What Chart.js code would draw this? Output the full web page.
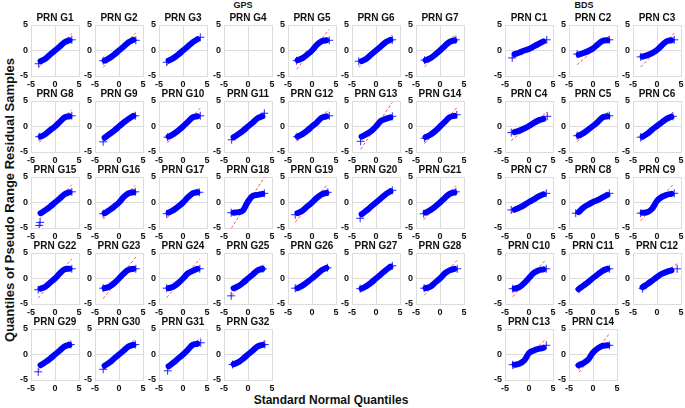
<!DOCTYPE html>
<html>
<head>
<meta charset="utf-8">
<script src="https://cdn.jsdelivr.net/npm/chart.js@4"></script>
<style>
  body { margin: 0; background: #fff; }
  #wrap { position: relative; width: 685px; height: 408px; overflow: hidden; font-family: "Liberation Sans", Arial, Helvetica, sans-serif; }
  #wrap canvas { position: absolute; }
  .lbl { position: absolute; font-weight: bold; color: #111; white-space: nowrap; transform: translate(-50%, -50%); }
</style>
</head>
<body>
<div id="wrap">
  <div class="lbl" style="left:243px;top:5px;font-size:9px">GPS</div>
  <div class="lbl" style="left:584px;top:5px;font-size:9px">BDS</div>
  <div class="lbl" style="left:9px;top:200px;font-size:13px;transform:translate(-50%,-50%) rotate(-90deg)">Quantiles of Pseudo Range Residual Samples</div>
  <div class="lbl" style="left:331px;top:400px;font-size:12px">Standard Normal Quantiles</div>
</div>
<script>
const qx = [-3, -2, -1, 0, 1, 2, 3];

// GPS
const gpsNames = ['G1','G2','G3','G4','G5','G6','G7','G8','G9','G10','G11','G12','G13','G14','G15','G16',
  'G17','G18','G19','G20','G21','G22','G23','G24','G25','G26','G27','G28','G29','G30','G31','G32'];
const gpsBand = [
  [-2.1,-1.6,-0.8,0,0.8,1.6,2.0],
  [-2.0,-1.5,-0.8,0,0.8,1.6,2.1],
  [-2.0,-1.5,-0.8,0,0.8,1.6,2.2],
  null,
  [-1.9,-1.5,-0.8,0,1.1,1.8,2.0],
  [-2.1,-1.6,-0.8,0,0.8,1.6,2.1],
  [-1.9,-1.5,-0.8,0,0.9,1.7,2.0],
  [-2.0,-1.5,-0.7,0,0.9,1.8,2.0],
  [-2.2,-1.5,-0.8,0,0.8,1.5,2.1],
  [-2.0,-1.5,-0.8,0,0.9,1.8,2.0],
  [-2.1,-1.5,-0.8,0,0.8,1.6,2.0],
  [-2.0,-1.5,-0.8,0,0.8,1.7,2.0],
  [-2.0,-1.5,-0.9,0,1.1,1.5,1.8],
  [-2.1,-1.6,-0.9,0,0.9,1.8,2.1],
  [-2.1,-1.5,-0.8,0,0.8,1.6,2.0],
  [-2.1,-1.5,-0.8,0,1.1,1.8,2.0],
  [-2.0,-1.5,-0.8,0,1.0,1.8,2.0],
  [-2.0,-1.9,-1.5,0.2,1.3,1.5,1.7],
  [-2.1,-1.6,-0.8,0,0.9,1.6,1.9],
  [-2.3,-1.6,-0.8,0,0.8,1.6,2.2],
  [-2.0,-1.5,-0.8,0,0.9,1.7,2.0],
  [-2.0,-1.6,-0.8,0,1.0,1.8,1.9],
  [-1.9,-1.6,-0.9,0,1.0,1.7,1.9],
  [-1.9,-1.6,-0.9,0,1.0,1.5,1.9],
  [-1.9,-1.5,-0.8,0,0.8,1.6,1.9],
  [-1.9,-1.4,-0.7,0,0.8,1.6,2.1],
  [-2.0,-1.5,-0.8,0,0.8,1.6,2.3],
  [-1.9,-1.6,-0.8,0,1.0,1.6,1.9],
  [-2.1,-1.5,-0.8,0,0.8,1.6,1.9],
  [-2.2,-1.6,-0.8,0,0.8,1.6,1.9],
  [-2.3,-1.6,-0.8,0,0.9,1.9,2.1],
  [-1.9,-1.5,-0.8,0,0.8,1.6,1.9]
];
// extreme samples drawn as single crosses [x, y]
const gpsTails = [
  [[-3.4,-2.6],[3.5,2.1]], [[-3.3,-2.0],[3.5,2.0]], [[-3.4,-2.3],[3.6,2.6]], [],
  [[-3.2,-2.0],[3.6,2.0]], [[-3.6,-2.1],[3.4,2.1]], [[-3.2,-1.9],[3.3,2.1]],
  [[-3.3,-2.0],[3.5,2.1]], [[-3.3,-3.0],[3.4,2.1]], [[-3.2,-2.1],[3.6,2.1]], [[-3.4,-2.6],[3.4,2.6]],
  [[-3.1,-2.0],[3.6,2.1]], [[-3.2,-2.9],[3.4,2.0]], [[-3.2,-2.3],[3.5,2.3]],
  [[-3.3,-4.5],[-3.1,-3.9],[3.5,2.1]], [[-3.3,-2.2],[3.4,2.1]], [[-3.4,-2.2],[3.4,2.0]], [[-3.5,-2.0],[3.4,1.8]],
  [[-3.5,-2.4],[3.3,2.0]], [[-3.3,-3.1],[3.4,2.4]], [[-3.4,-2.2],[3.3,2.1]],
  [[-3.5,-2.2],[3.5,1.9]], [[-3.3,-1.9],[3.5,1.9]], [[-3.4,-1.9],[3.5,1.9]], [[-3.5,-3.4],[3.1,1.9]],
  [[-3.5,-1.9],[3.2,2.1]], [[-3.3,-2.0],[3.4,2.5]], [[-3.3,-1.9],[3.6,1.9]],
  [[-3.5,-3.4],[3.3,1.95]], [[-3.3,-2.9],[3.4,1.95]], [[-3.2,-3.2],[3.7,2.3]], [[-3.2,-1.95],[3.5,1.95]]
];
const gpsSlope = [0.95,1.0,0.85,null,1.15,0.9,1.0,0.95,0.8,1.0,0.85,0.95,1.4,1.05,1.0,1.0,
  0.9,1.45,1.1,0.85,1.0,1.1,1.2,1.1,0.95,0.75,0.8,1.0,0.9,0.9,0.9,0.8];

// BDS
const bdsNames = ['C1','C2','C3','C4','C5','C6','C7','C8','C9','C10','C11','C12','C13','C14'];
const bdsBand = [
  [-0.7,-0.4,0,0.3,0.8,1.3,1.8],
  [-0.8,-0.5,-0.1,0.4,1.2,1.9,2.0],
  [-1.2,-0.9,-0.5,0.1,1.0,1.8,2.0],
  [-1.1,-0.8,-0.4,0.1,0.7,1.2,1.5],
  [-1.8,-1.3,-0.6,0.1,0.9,1.8,2.0],
  [-2.0,-1.4,-0.6,0.1,0.8,1.5,1.9],
  [-1.4,-1.0,-0.5,0.1,0.6,1.2,1.6],
  [-1.9,-1.0,-0.4,0.1,0.5,1.0,1.5],
  [-2.0,-1.9,-1.2,0.3,1.1,1.5,1.7],
  [-2.0,-1.7,-0.9,0.1,1.1,1.6,1.8],
  [-2.1,-1.4,-0.7,0.1,0.8,1.5,1.9],
  [-1.7,-1.1,-0.4,0.3,0.9,1.3,1.6],
  [-2.0,-1.8,-1.2,0.3,0.8,1.1,1.3],
  [-2.1,-1.7,-1.0,0.4,1.2,1.7,1.8]
];
const bdsTails = [
  [[-3.5,-1.45],[3.7,2.1]], [[-3.3,-0.7],[3.4,2.1]], [[-3.4,-1.25],[3.6,2.1]],
  [[-3.7,-1.2],[3.8,2.0]], [[-3.3,-1.8],[3.4,2.1]], [[-3.4,-2.1],[3.3,2.0]],
  [[-3.7,-1.45],[3.6,1.8]], [[-3.6,-2.1],[3.4,1.8]], [[-3.4,-2.1],[3.6,1.8]],
  [[-3.4,-2.0],[3.6,1.9]], [[-2.9,-2.1],[3.4,1.9]], [[-3.0,-2.0],[4.2,1.9]],
  [[-3.4,-2.0],[3.6,1.8]], [[-2.9,-2.15],[3.4,1.8]]
];
const bdsSlope = [0.45,0.85,0.95,0.75,0.9,0.85,0.55,0.55,1.05,1.05,0.8,0.7,0.85,1.2];

const FONT = '"Liberation Sans", Arial, Helvetica, sans-serif';
const PLOT_W = 48, PLOT_H = 51;
const Y_AXIS_W = 20, X_AXIS_H = 14, TITLE_H = 17, PAD_R = 6;

function axis(pos) {
  return {
    type: 'linear', position: pos, min: -5, max: 5,
    grid: { color: '#dcdcdc', drawTicks: false },
    border: { color: '#dcdcdc' },
    ticks: { stepSize: 5, padding: 3, color: '#111', font: { family: FONT, size: 9, weight: 'bold' } },
    afterFit(s) { if (pos === 'left') s.width = Y_AXIS_W; else s.height = X_AXIS_H; }
  };
}

function drawPanel(name, band, tails, slope, plotLeft, plotTop) {
  const cv = document.createElement('canvas');
  cv.width = Y_AXIS_W + PLOT_W + PAD_R;
  cv.height = TITLE_H + PLOT_H + X_AXIS_H;
  cv.style.left = (plotLeft - Y_AXIS_W) + 'px';
  cv.style.top = (plotTop - TITLE_H) + 'px';
  document.getElementById('wrap').appendChild(cv);

  const datasets = [];
  if (band) {
    datasets.push({
      data: qx.map((x, i) => ({ x: x, y: band[i] })),
      showLine: true, borderColor: '#0000ff', borderWidth: 6, pointRadius: 0,
      cubicInterpolationMode: 'monotone', borderCapStyle: 'round'
    });
    datasets.push({
      data: tails.map(p => ({ x: p[0], y: p[1] })),
      pointStyle: 'cross', pointRadius: 4, borderColor: 'rgba(0,0,255,0.85)', borderWidth: 1,
      backgroundColor: 'transparent'
    });
    const x0 = tails[0][0], x1 = tails[tails.length - 1][0];
    datasets.push({
      data: [{ x: x0, y: slope * x0 }, { x: x1, y: slope * x1 }],
      showLine: true, borderColor: 'rgba(255,40,40,0.8)', borderWidth: 1, borderDash: [3, 2],
      pointRadius: 0
    });
  }

  new Chart(cv, {
    type: 'scatter',
    data: { datasets: datasets },
    options: {
      responsive: false,
      animation: false,
      devicePixelRatio: 1,
      layout: { autoPadding: false, padding: { left: 0, right: PAD_R, top: 0, bottom: 0 } },
      plugins: {
        legend: { display: false },
        tooltip: { enabled: false },
        title: {
          display: true, text: 'PRN ' + name, color: '#111', fullSize: false, // centre over the plot box
          font: { family: FONT, size: 10, weight: 'bold', lineHeight: 1 },
          padding: { top: 5, bottom: 2 }
        }
      },
      scales: { x: axis('bottom'), y: axis('left') }
    }
  });
}

gpsNames.forEach((n, i) => {
  const col = i % 7, row = Math.floor(i / 7);
  drawPanel(n, gpsBand[i], gpsTails[i], gpsSlope[i], Math.round(31 + 64.2 * col), 25 + 76 * row);
});
bdsNames.forEach((n, i) => {
  const col = i % 3, row = Math.floor(i / 3);
  drawPanel(n, bdsBand[i], bdsTails[i], bdsSlope[i], 505 + 64 * col, 25 + 76 * row);
});
</script>
</body>
</html>
